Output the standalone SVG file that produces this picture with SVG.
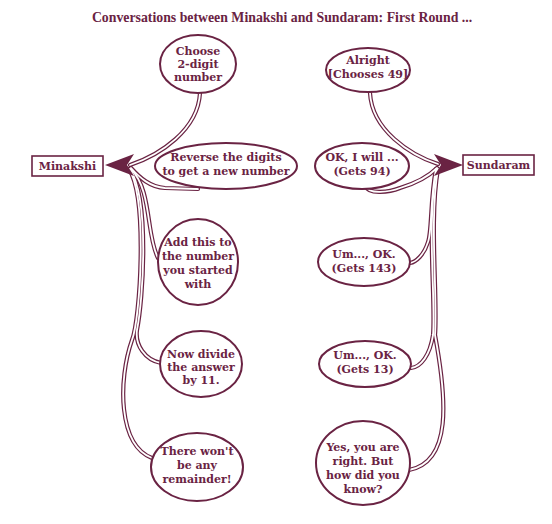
<svg xmlns="http://www.w3.org/2000/svg" xmlns:xlink="http://www.w3.org/1999/xlink" width="552" height="524" viewBox="0 0 552 524">
<style>
.t{font-family:"DejaVu Serif","Liberation Serif",serif;font-weight:bold;font-size:11px;fill:#6a2343;text-anchor:middle}
.title{font-family:"Liberation Serif","Times New Roman",serif;font-size:13.8px}
.n{fill:#ffffff;stroke:#6a2343;stroke-width:2}
.b{fill:#ffffff;stroke:#6a2343;stroke-width:1.6}
.co{fill:none;stroke:#6a2343;stroke-width:4.2;stroke-linecap:round}
.ci{fill:none;stroke:#ffffff;stroke-width:1.8;stroke-linecap:round}
.ah{fill:#6a2343}
</style>
<defs>
<path id="p1" d="M 200 93 C 198 130, 160 155, 130 165"/>
<path id="p2" d="M 198 189 L 165 188 C 150 187, 140 178, 131 168"/>
<path id="p3" d="M 131 169 C 152 190, 146 235, 158 258"/>
<path id="p4" d="M 130 169 C 150 200, 143 300, 137 330 C 135 345, 145 360, 161 363"/>
<path id="p5" d="M 129 169 C 148 200, 140 320, 132 340 C 118 380, 118 445, 152 458"/>
<path id="q1" d="M 370 93 C 372 130, 410 155, 438 164"/>
<path id="q2" d="M 366 186 C 368 195, 390 192, 400 188 C 420 182, 430 175, 437 168"/>
<path id="q3" d="M 436 169 C 430 200, 432 232, 428 242 C 424 255, 416 262, 410 263"/>
<path id="q4" d="M 437 169 C 426 220, 436 300, 433 335 C 430 355, 421 367, 411 368"/>
<path id="q5" d="M 438 169 C 429 220, 438 300, 435 335 C 447 400, 452 462, 409 470"/>
</defs>
<rect width="552" height="524" fill="#ffffff"/>
<text class="t title" x="282" y="22">Conversations between Minakshi and Sundaram: First Round ...</text>
<g id="connectors">
<use xlink:href="#p1" class="co"/><use xlink:href="#p2" class="co"/><use xlink:href="#p3" class="co"/><use xlink:href="#p4" class="co"/><use xlink:href="#p5" class="co"/>
<use xlink:href="#q1" class="co"/><use xlink:href="#q2" class="co"/><use xlink:href="#q3" class="co"/><use xlink:href="#q4" class="co"/><use xlink:href="#q5" class="co"/>
<use xlink:href="#p1" class="ci"/><use xlink:href="#p2" class="ci"/><use xlink:href="#p3" class="ci"/><use xlink:href="#p4" class="ci"/><use xlink:href="#p5" class="ci"/>
<use xlink:href="#q1" class="ci"/><use xlink:href="#q2" class="ci"/><use xlink:href="#q3" class="ci"/><use xlink:href="#q4" class="ci"/><use xlink:href="#q5" class="ci"/>
<polygon class="ah" points="105,165 134,154 127,165 134,176"/>
<polygon class="ah" points="463,165 434,154 441,165 434,176"/>
</g>
<g id="minakshi"><rect class="b" x="32" y="156" width="71" height="20"/><text class="t" x="67.5" y="170">Minakshi</text></g>
<g id="sundaram"><rect class="b" x="463" y="155" width="71" height="20"/><text class="t" x="498.5" y="169">Sundaram</text></g>
<g id="l1"><ellipse class="n" cx="198" cy="64" rx="38" ry="29"/><text class="t" x="198" y="55">Choose</text><text class="t" x="198" y="68">2-digit</text><text class="t" x="198" y="81">number</text></g>
<g id="l2"><ellipse class="n" cx="226" cy="166" rx="71" ry="23"/><text class="t" x="226" y="161">Reverse the digits</text><text class="t" x="226" y="175">to get a new number</text></g>
<g id="l3"><ellipse class="n" cx="198" cy="262" rx="40" ry="43"/><text class="t" x="198" y="246">Add this to</text><text class="t" x="198" y="260">the number</text><text class="t" x="198" y="274">you started</text><text class="t" x="198" y="288">with</text></g>
<g id="l4"><ellipse class="n" cx="201" cy="364" rx="41" ry="33"/><text class="t" x="201" y="358">Now divide</text><text class="t" x="201" y="371">the answer</text><text class="t" x="201" y="384">by 11.</text></g>
<g id="l5"><ellipse class="n" cx="197" cy="467" rx="46" ry="34"/><text class="t" x="197" y="455">There won't</text><text class="t" x="197" y="469">be any</text><text class="t" x="197" y="483">remainder!</text></g>
<g id="r1"><ellipse class="n" cx="368" cy="70" rx="42" ry="22"/><text class="t" x="368" y="64">Alright</text><text class="t" x="368" y="78">[Chooses 49]</text></g>
<g id="r2"><ellipse class="n" cx="362" cy="166" rx="47" ry="23"/><text class="t" x="362" y="161">OK, I will ...</text><text class="t" x="362" y="175">(Gets 94)</text></g>
<g id="r3"><ellipse class="n" cx="364" cy="262" rx="46" ry="24"/><text class="t" x="364" y="258">Um..., OK.</text><text class="t" x="364" y="272">(Gets 143)</text></g>
<g id="r4"><ellipse class="n" cx="365" cy="364" rx="46" ry="23"/><text class="t" x="365" y="359">Um..., OK.</text><text class="t" x="365" y="373">(Gets 13)</text></g>
<g id="r5"><ellipse class="n" cx="363" cy="463" rx="47" ry="42"/><text class="t" x="363" y="451">Yes, you are</text><text class="t" x="363" y="465">right. But</text><text class="t" x="363" y="479">how did you</text><text class="t" x="363" y="493">know?</text></g>
</svg>
